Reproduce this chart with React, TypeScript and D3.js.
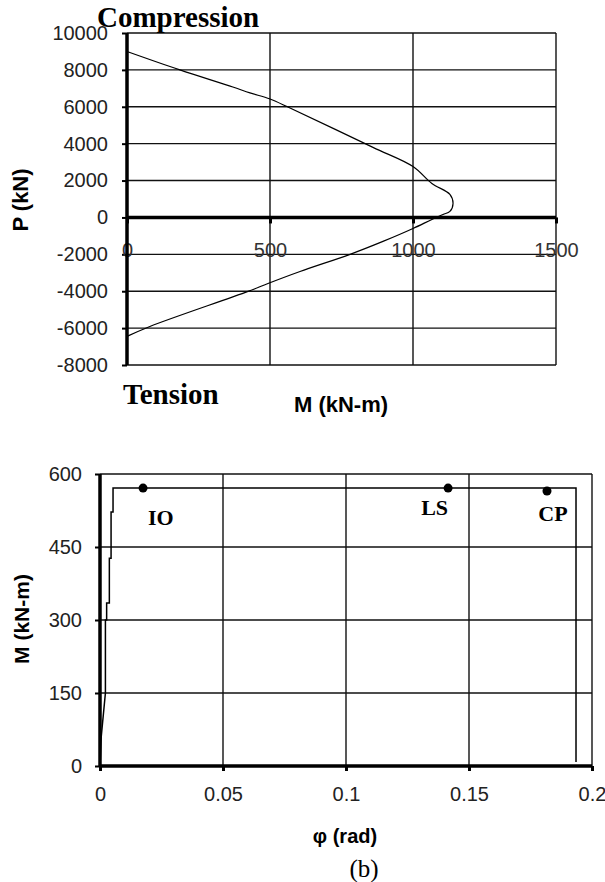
import { useEffect, useRef } from "react";
import * as d3 from "d3";

// interaction diagram (top)
const momentKNm = [0, 185, 370, 430, 500, 570, 860, 1000, 1066, 1129, 1140, 1129, 1105, 1066, 1000, 895, 780, 605, 493, 423, 80, 0];
const axialKN = [9000, 8000, 7070, 6750, 6420, 5930, 3800, 2760, 1840, 1250, 760, 325, 160, -110, -600, -1300, -2000, -2930, -3580, -4010, -5910, -6450];
const pTicks = [-8000, -6000, -4000, -2000, 0, 2000, 4000, 6000, 8000, 10000];
const mTicks = [0, 500, 1000, 1500];

// moment-rotation (bottom)
const rotation = [0, 0.0005, 0.0022, 0.0022, 0.0027, 0.0027, 0.0038, 0.0038, 0.0045, 0.0045, 0.0053, 0.0053, 0.1935, 0.1935];
const moment = [0, 60, 150, 300, 300, 335, 335, 427, 427, 522, 522, 571, 571, 8];
const levelNames = ["IO", "LS", "CP"];
const levelRotation = [0.0175, 0.1415, 0.1817];
const levelMoment = [571, 571, 565];
const phiTicks = [0, 0.05, 0.1, 0.15, 0.2];
const m2Ticks = [0, 150, 300, 450, 600];

const labelOffsets = [
  { dx: 5, dy: 37, anchor: "start" },
  { dx: 0, dy: 27, anchor: "end" },
  { dx: 6, dy: 30, anchor: "middle" },
];

const SANS = "Arial, 'Liberation Sans', sans-serif";
const SERIF = "'Times New Roman', 'Liberation Serif', serif";

function App() {
  const ref = useRef<SVGSVGElement>(null);

  useEffect(() => {
    const svg = d3.select(ref.current);
    svg.selectAll("*").remove();

    // ---------- top chart ----------
    const x1 = d3.scaleLinear().domain([0, 1500]).range([127, 556]);
    const y1 = d3.scaleLinear().domain([-8000, 10000]).range([365, 33]);
    const top = svg.append("g");

    top.selectAll(".hgrid").data(pTicks).join("line")
      .attr("x1", x1(0)).attr("x2", x1(1500))
      .attr("y1", d => y1(d)).attr("y2", d => y1(d))
      .attr("stroke", "#111").attr("stroke-width", 1.4);
    top.selectAll(".vgrid").data(mTicks.slice(1)).join("line")
      .attr("x1", d => x1(d)).attr("x2", d => x1(d))
      .attr("y1", y1(10000)).attr("y2", y1(-8000))
      .attr("stroke", "#111").attr("stroke-width", 1.4);

    const yAxis1 = top.append("g").attr("transform", `translate(${x1(0)},0)`)
      .call(d3.axisLeft(y1).tickValues(pTicks).tickSize(5).tickPadding(14).tickFormat(d => String(d)));
    yAxis1.select(".domain").remove();
    yAxis1.selectAll("line").attr("stroke", "#000").attr("stroke-width", 2);
    yAxis1.selectAll("text").attr("font-family", SANS).attr("font-size", 20).attr("fill", "#222");

    const xAxis1 = top.append("g").attr("transform", `translate(0,${y1(0)})`)
      .call(d3.axisBottom(x1).tickValues(mTicks).tickSize(6).tickPadding(19).tickFormat(d => String(d)));
    xAxis1.select(".domain").remove();
    xAxis1.selectAll("line").attr("stroke", "#000").attr("stroke-width", 3);
    xAxis1.selectAll("text").attr("font-family", SANS).attr("font-size", 20).attr("fill", "#333");

    top.append("line").attr("x1", x1(0)).attr("x2", x1(1500))
      .attr("y1", y1(0)).attr("y2", y1(0)).attr("stroke", "#000").attr("stroke-width", 3.5);
    top.append("line").attr("x1", x1(0)).attr("x2", x1(0))
      .attr("y1", y1(10000)).attr("y2", y1(-8000)).attr("stroke", "#000").attr("stroke-width", 3.5);

    const pm = d3.line<number>()
      .x((_, i) => x1(momentKNm[i])).y(d => y1(d))
      .curve(d3.curveCatmullRom);
    top.append("path").attr("d", pm(axialKN))
      .attr("fill", "none").attr("stroke", "#000").attr("stroke-width", 1.2);

    top.append("text").attr("x", 97).attr("y", 27).text("Compression")
      .attr("font-family", SERIF).attr("font-weight", "bold").attr("font-size", 29);
    top.append("text").attr("x", 123).attr("y", 404).text("Tension")
      .attr("font-family", SERIF).attr("font-weight", "bold").attr("font-size", 29);
    top.append("text").attr("x", 341).attr("y", 412).attr("text-anchor", "middle").text("M (kN-m)")
      .attr("font-family", SANS).attr("font-weight", "bold").attr("font-size", 22);
    top.append("text").attr("transform", "translate(28,200) rotate(-90)").attr("text-anchor", "middle").text("P (kN)")
      .attr("font-family", SANS).attr("font-weight", "bold").attr("font-size", 22);

    // ---------- bottom chart ----------
    const x2 = d3.scaleLinear().domain([0, 0.2]).range([100, 592]);
    const y2 = d3.scaleLinear().domain([0, 600]).range([766, 474]);
    const bot = svg.append("g");

    bot.selectAll(".hgrid").data(m2Ticks.slice(1)).join("line")
      .attr("x1", x2(0)).attr("x2", x2(0.2))
      .attr("y1", d => y2(d)).attr("y2", d => y2(d))
      .attr("stroke", "#111").attr("stroke-width", 1.4);
    bot.selectAll(".vgrid").data(phiTicks.slice(1)).join("line")
      .attr("x1", d => x2(d)).attr("x2", d => x2(d))
      .attr("y1", y2(600)).attr("y2", y2(0))
      .attr("stroke", "#111").attr("stroke-width", 1.4);

    const yAxis2 = bot.append("g").attr("transform", `translate(${x2(0)},0)`)
      .call(d3.axisLeft(y2).tickValues(m2Ticks).tickSize(5).tickPadding(13).tickFormat(d => String(d)));
    yAxis2.select(".domain").remove();
    yAxis2.selectAll("line").attr("stroke", "#000").attr("stroke-width", 2);
    yAxis2.selectAll("text").attr("font-family", SANS).attr("font-size", 20).attr("fill", "#222");

    const xAxis2 = bot.append("g").attr("transform", `translate(0,${y2(0)})`)
      .call(d3.axisBottom(x2).tickValues(phiTicks).tickSize(5).tickPadding(16).tickFormat(d => String(d)));
    xAxis2.select(".domain").remove();
    xAxis2.selectAll("line").attr("stroke", "#000").attr("stroke-width", 3);
    xAxis2.selectAll("text").attr("font-family", SANS).attr("font-size", 20).attr("fill", "#222");

    bot.append("line").attr("x1", x2(0)).attr("x2", x2(0.2))
      .attr("y1", y2(0)).attr("y2", y2(0)).attr("stroke", "#000").attr("stroke-width", 3.5);
    bot.append("line").attr("x1", x2(0)).attr("x2", x2(0))
      .attr("y1", y2(600)).attr("y2", y2(0)).attr("stroke", "#000").attr("stroke-width", 3.5);

    const mr = d3.line<number>().x((_, i) => x2(rotation[i])).y(d => y2(d));
    bot.append("path").attr("d", mr(moment))
      .attr("fill", "none").attr("stroke", "#000").attr("stroke-width", 1.5);

    bot.selectAll(".lvl").data(levelNames).join("circle")
      .attr("cx", (_, i) => x2(levelRotation[i])).attr("cy", (_, i) => y2(levelMoment[i]))
      .attr("r", 4.5).attr("fill", "#000");
    bot.selectAll(".lvlText").data(levelNames).join("text")
      .attr("x", (_, i) => x2(levelRotation[i]) + labelOffsets[i].dx)
      .attr("y", (_, i) => y2(levelMoment[i]) + labelOffsets[i].dy)
      .attr("text-anchor", (_, i) => labelOffsets[i].anchor)
      .attr("font-family", SERIF).attr("font-weight", "bold").attr("font-size", 22)
      .text(d => d);

    bot.append("text").attr("transform", "translate(29,619) rotate(-90)").attr("text-anchor", "middle").text("M (kN-m)")
      .attr("font-family", SANS).attr("font-weight", "bold").attr("font-size", 21);
    bot.append("text").attr("x", 345).attr("y", 843).attr("text-anchor", "middle").text("φ (rad)")
      .attr("font-family", SANS).attr("font-weight", "bold").attr("font-size", 20);
    bot.append("text").attr("x", 364).attr("y", 877).attr("text-anchor", "middle").text("(b)")
      .attr("font-family", SERIF).attr("font-size", 25);
  }, []);

  return (
    <svg ref={ref} width={605} height={882}
      style={{ position: "absolute", left: 0, top: 0, background: "#fff" }} />
  );
}

export default App;
